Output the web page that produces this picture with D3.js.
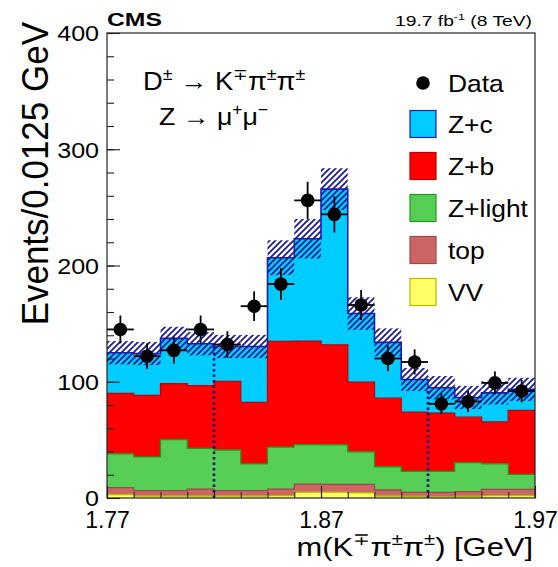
<!DOCTYPE html>
<html>
<head>
<meta charset="utf-8">
<script src="https://cdn.jsdelivr.net/npm/d3@7"></script>
<style>
  body { margin: 0; background: #fff; }
  svg { display: block; font-family: "Liberation Sans", Arial, Helvetica, sans-serif; }
</style>
</head>
<body>
<svg id="chart" width="558" height="567"></svg>
<script>
"use strict";

// bin edges of m(K pi pi), 0.0125 GeV wide
const binEdges = [1.77, 1.7825, 1.795, 1.8075, 1.82, 1.8325, 1.845, 1.8575, 1.87,
  1.8825, 1.895, 1.9075, 1.92, 1.9325, 1.945, 1.9575, 1.97];

// stacked MC per bin
const vv     = [3, 1.7, 1.7, 1.7, 1.7, 1.7, 2, 5, 5, 4.5, 1.7, 1.5, 1, 1.5, 2, 2];
const topQ   = [6, 4.6, 4.6, 6, 4.6, 4.6, 5.7, 7, 6.7, 7.2, 5.2, 3.4, 3.9, 4, 5.4, 5.4];
const zLight = [29, 29, 44, 35, 35, 23, 36, 34, 34, 28, 20, 18, 18, 25, 22, 13];
const zB     = [52, 53, 48, 54, 59, 53, 91, 89, 86, 60, 59, 51, 50, 39, 36, 55];
const zC     = [35, 36, 39, 36, 30, 48, 72, 88, 134, 59, 48, 28, 22, 17, 25, 18];
const mcErr  = [10, 10, 10, 10, 10, 10, 15, 17, 18, 14, 12, 10, 10, 10, 10, 10];

// data
const dataVal = [145, 122, 127, 145, 132, 165, 184, 256, 244, 166, 120, 117, 81, 83, 99, 92];
const dataErr = [12, 11, 11.3, 12, 11.5, 12.8, 13.6, 16, 15.6, 12.9, 11, 10.8, 9, 9.1, 9.9, 9.6];

// signal window cuts
const cutLines = [1.82, 1.92];

const yTicks = [0, 100, 200, 300, 400];
const xTicks = [1.77, 1.87, 1.97];
const xTickLabels = ["1.77", "1.87", "1.97"];

const svg = d3.select("#chart");
const x = d3.scaleLinear().domain([1.77, 1.97]).range([107, 535]);
const y = d3.scaleLinear().domain([0, 400]).range([498, 33]);

const defs = svg.append("defs");
defs.append("pattern")
  .attr("id", "hatch")
  .attr("patternUnits", "userSpaceOnUse")
  .attr("width", 6).attr("height", 6)
  .append("path")
  .attr("d", "M-1,1 l2,-2 M0,6 l6,-6 M5,7 l2,-2")
  .attr("stroke", "#1c1c9a")
  .attr("stroke-width", 1.8);

const layers = [
  { key: "vv", name: "VV", vals: vv, fill: "#ffff66", line: "#b8b800" },
  { key: "top", name: "top", vals: topQ, fill: "#cc6666", line: "#9a4a4a" },
  { key: "light", name: "Z+light", vals: zLight, fill: "#57cf57", line: "#1f9a1f" },
  { key: "zb", name: "Z+b", vals: zB, fill: "#ff0000", line: "#c00000" },
  { key: "zc", name: "Z+c", vals: zC, fill: "#00ccff", line: "#1c1ca6" },
];

const rows = dataVal.map((d, i) => {
  const r = { i: i, x0: binEdges[i], x1: binEdges[i + 1] };
  layers.forEach((l) => { r[l.key] = l.vals[i]; });
  return r;
});

const stacked = d3.stack().keys(layers.map((l) => l.key))(rows);
const totals = rows.map((r, i) => stacked[stacked.length - 1][i][1]);

// step points: two per bin
function steps(series) {
  const pts = [];
  series.forEach((s, i) => {
    pts.push({ x: binEdges[i], y0: s[0], y1: s[1] });
    pts.push({ x: binEdges[i + 1], y0: s[0], y1: s[1] });
  });
  return pts;
}

const area = d3.area().x((d) => x(d.x)).y0((d) => y(d.y0)).y1((d) => y(d.y1));
const line = d3.line().x((d) => x(d.x)).y((d) => y(d.y1));

const g = svg.append("g");
stacked.forEach((s, k) => {
  g.append("path").attr("d", area(steps(s))).attr("fill", layers[k].fill);
});
stacked.forEach((s, k) => {
  g.append("path").attr("d", line(steps(s)))
    .attr("fill", "none")
    .attr("stroke", layers[k].line)
    .attr("stroke-width", k === 4 ? 1.6 : 1.3);
});

// MC uncertainty band
g.selectAll("rect.band")
  .data(rows)
  .enter()
  .append("rect")
  .attr("class", "band")
  .attr("x", (d) => x(d.x0))
  .attr("width", (d) => x(d.x1) - x(d.x0))
  .attr("y", (d, i) => y(totals[i] + mcErr[i]))
  .attr("height", (d, i) => y(totals[i] - mcErr[i]) - y(totals[i] + mcErr[i]))
  .attr("fill", "url(#hatch)");

// cut lines
cutLines.forEach((c) => {
  const bi = binEdges.indexOf(c);
  g.append("line")
    .attr("x1", x(c)).attr("x2", x(c))
    .attr("y1", y(0)).attr("y2", y(totals[bi]))
    .attr("stroke", "#10107a")
    .attr("stroke-width", 2.6)
    .attr("stroke-dasharray", "2.5,3");
});

// data points
const pts = g.append("g");
rows.forEach((r, i) => {
  const cx = x((r.x0 + r.x1) / 2);
  pts.append("line")
    .attr("x1", x(r.x0)).attr("x2", x(r.x1))
    .attr("y1", y(dataVal[i])).attr("y2", y(dataVal[i]))
    .attr("stroke", "#000").attr("stroke-width", 1.8);
  pts.append("line")
    .attr("x1", cx).attr("x2", cx)
    .attr("y1", y(dataVal[i] - dataErr[i])).attr("y2", y(dataVal[i] + dataErr[i]))
    .attr("stroke", "#000").attr("stroke-width", 1.8);
  pts.append("circle")
    .attr("cx", cx).attr("cy", y(dataVal[i])).attr("r", 6.8)
    .attr("fill", "#000");
});

// frame
svg.append("rect")
  .attr("x", 107).attr("y", 33).attr("width", 428).attr("height", 465)
  .attr("fill", "none").attr("stroke", "#222").attr("stroke-width", 1.2);

// axes
const yMinor = svg.append("g").attr("transform", "translate(107,0)")
  .call(d3.axisLeft(y).tickValues(d3.range(0, 401, 20)).tickSize(-7).tickFormat(""));
const yMajor = svg.append("g").attr("transform", "translate(107,0)")
  .call(d3.axisLeft(y).tickValues(yTicks).tickSize(-13).tickPadding(7));
const xMinor = svg.append("g").attr("transform", "translate(0,498)")
  .call(d3.axisBottom(x).tickValues(binEdges).tickSize(-6).tickFormat(""));
const xMajor = svg.append("g").attr("transform", "translate(0,498)")
  .call(d3.axisBottom(x).tickValues(xTicks).tickSize(-12).tickPadding(9)
    .tickFormat((d, i) => xTickLabels[i]));

[yMinor, yMajor, xMinor, xMajor].forEach((a) => {
  a.select(".domain").remove();
  a.selectAll("line").attr("stroke", "#222").attr("stroke-width", 1.1);
});
yMajor.selectAll("text")
  .attr("font-size", 22).attr("fill", "#000")
  .attr("transform", "scale(1.14,1)").attr("dy", "0.36em");
xMajor.selectAll("text")
  .attr("font-size", 23).attr("fill", "#000")
  .attr("dy", "0.92em");

// text helper, stretched to a target width
function label(xp, yp, html, size, anchor, targetW, weight, fixedSx) {
  const t = svg.append("text")
    .attr("font-size", size)
    .attr("text-anchor", anchor)
    .attr("font-weight", weight || "normal")
    .attr("fill", "#000")
    .html(html);
  const w = t.node().getBBox().width;
  const sx = targetW ? targetW / w : (fixedSx || 1);
  t.attr("transform", `translate(${xp},${yp}) scale(${sx},1)`);
  return t;
}
const sup = (s, sz) => `<tspan dy="-${sz * 0.42}" font-size="${sz * 0.65}">${s}</tspan><tspan dy="${sz * 0.42}">`;

label(107, 26, "CMS", 18, "start", 55, "bold");
label(532, 26, `19.7 fb${sup("-1", 15)} (8 TeV)</tspan>`, 15, "end", 137);
label(143, 90, `D${sup("±", 25)} → K</tspan>${sup("∓", 25)}π</tspan>${sup("±", 25)}π</tspan>${sup("±", 25)}</tspan>`, 25, "start", 162);
label(159, 125, `Z → μ${sup("+", 24)}μ</tspan>${sup("−", 24)}</tspan>`, 24, "start", 109);
label(533, 556, `m(K${sup("∓", 26)}π</tspan>${sup("±", 26)}π</tspan>${sup("±", 26)}) [GeV]</tspan>`, 26, "end", 236);

// y title
svg.append("text")
  .attr("font-size", 35)
  .attr("text-anchor", "end")
  .attr("fill", "#000")
  .attr("transform", "translate(48,22) scale(1.08,1) rotate(-90)")
  .text("Events/0.0125 GeV");

// legend
const legend = svg.append("g");
legend.append("circle").attr("cx", 423).attr("cy", 83).attr("r", 6.8).attr("fill", "#000");
label(448, 92, "Data", 24, "start", null, null, 1.1);
const legendOrder = ["zc", "zb", "light", "top", "vv"];
legendOrder.forEach((k, i) => {
  const l = layers.find((d) => d.key === k);
  const cy = 124 + i * 42;
  legend.append("rect")
    .attr("x", 410).attr("y", cy - 13.5).attr("width", 26).attr("height", 27)
    .attr("fill", l.fill).attr("stroke", l.line).attr("stroke-width", 1.2);
  label(448, cy + 9, l.name, 24, "start", null, null, 1.1);
});
</script>
</body>
</html>
